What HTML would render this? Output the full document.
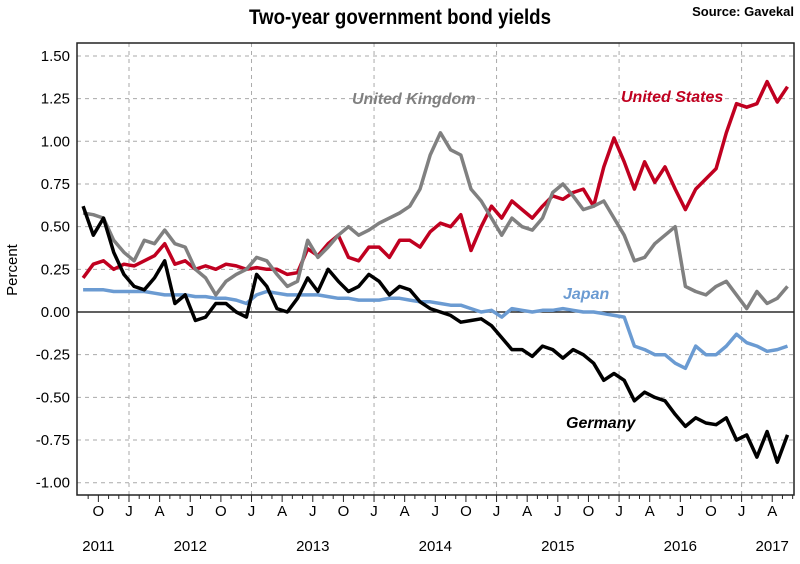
<!DOCTYPE html>
<html><head><meta charset="utf-8"><style>
body{margin:0;background:#fff;font-family:"Liberation Sans",sans-serif}
svg text{font-family:"Liberation Sans",sans-serif}
</style></head><body>
<svg id="chart" width="800" height="559" viewBox="0 0 800 559" xmlns="http://www.w3.org/2000/svg">
<text x="400" y="24" text-anchor="middle" font-size="21" font-weight="bold" textLength="302" lengthAdjust="spacingAndGlyphs" style="font-family:'Liberation Sans Narrow','Liberation Sans',sans-serif">Two-year government bond yields</text>
<text x="794" y="16" text-anchor="end" font-size="13" font-weight="bold">Source: Gavekal</text>
<text transform="translate(17,270) rotate(-90)" text-anchor="middle" font-size="15">Percent</text>
<g id="grid"></g><g id="axes"></g><g id="series"></g>
<rect x="77" y="43" width="717" height="452" fill="none" stroke="#222" stroke-width="1.5"/>
<text x="352" y="104" font-size="16" font-weight="bold" font-style="italic" fill="#808080">United Kingdom</text>
<text x="621" y="102" font-size="16" font-weight="bold" font-style="italic" fill="#c00020">United States</text>
<text x="563" y="299" font-size="16" font-weight="bold" font-style="italic" fill="#6b9bd2">Japan</text>
<text x="566" y="428" font-size="16" font-weight="bold" font-style="italic" fill="#000">Germany</text>
</svg>
<script>
const yTicks=[1.5,1.25,1.0,0.75,0.5,0.25,0,-0.25,-0.5,-0.75,-1.0];
const yTickLabels=["1.50","1.25","1.00","0.75","0.50","0.25","0.00","-0.25","-0.50","-0.75","-1.00"];
const quarterLabels=["O","J","A","J","O","J","A","J","O","J","A","J","O","J","A","J","O","J","A","J","O","J","A"];
const yearLabels=["2011","2012","2013","2014","2015","2016","2017"];
const startMonth=7.5; // months since Jan 2011
const usValues=[0.20,0.28,0.30,0.25,0.28,0.27,0.30,0.33,0.40,0.28,0.30,0.25,0.27,0.25,0.28,0.27,0.25,0.26,0.25,0.25,0.22,0.23,0.37,0.33,0.40,0.45,0.32,0.30,0.38,0.38,0.32,0.42,0.42,0.38,0.47,0.52,0.50,0.57,0.36,0.50,0.62,0.55,0.65,0.60,0.55,0.62,0.68,0.66,0.70,0.72,0.62,0.85,1.02,0.88,0.72,0.88,0.76,0.85,0.72,0.60,0.72,0.78,0.84,1.05,1.22,1.20,1.22,1.35,1.23,1.32];
const ukValues=[0.58,0.57,0.55,0.42,0.35,0.30,0.42,0.40,0.48,0.40,0.38,0.25,0.20,0.10,0.18,0.22,0.25,0.32,0.30,0.22,0.15,0.18,0.42,0.32,0.38,0.45,0.50,0.45,0.48,0.52,0.55,0.58,0.62,0.72,0.92,1.05,0.95,0.92,0.72,0.65,0.55,0.45,0.55,0.50,0.48,0.55,0.70,0.75,0.68,0.60,0.62,0.65,0.55,0.45,0.30,0.32,0.40,0.45,0.50,0.15,0.12,0.10,0.15,0.18,0.10,0.02,0.12,0.05,0.08,0.15];
const jpValues=[0.13,0.13,0.13,0.12,0.12,0.12,0.12,0.11,0.10,0.10,0.10,0.09,0.09,0.08,0.08,0.07,0.05,0.10,0.12,0.11,0.10,0.10,0.10,0.10,0.09,0.08,0.08,0.07,0.07,0.07,0.08,0.08,0.07,0.06,0.06,0.05,0.04,0.04,0.02,0.00,0.01,-0.03,0.02,0.01,0.00,0.01,0.01,0.02,0.01,0.00,0.00,-0.01,-0.02,-0.03,-0.20,-0.22,-0.25,-0.25,-0.30,-0.33,-0.20,-0.25,-0.25,-0.20,-0.13,-0.18,-0.20,-0.23,-0.22,-0.20];
const deValues=[0.62,0.45,0.55,0.35,0.22,0.15,0.13,0.20,0.30,0.05,0.10,-0.05,-0.03,0.05,0.05,0.00,-0.03,0.22,0.15,0.02,0.00,0.08,0.20,0.12,0.25,0.18,0.12,0.15,0.22,0.18,0.10,0.15,0.13,0.06,0.02,0.00,-0.02,-0.06,-0.05,-0.04,-0.08,-0.15,-0.22,-0.22,-0.26,-0.20,-0.22,-0.27,-0.22,-0.25,-0.30,-0.40,-0.36,-0.40,-0.52,-0.47,-0.50,-0.52,-0.60,-0.67,-0.62,-0.65,-0.66,-0.62,-0.75,-0.72,-0.85,-0.70,-0.88,-0.72];

const NS="http://www.w3.org/2000/svg";
const L=77,R=794,T=43,B=495;
function xScale(m){return 129+(m-12)*10.21;}
function yScale(v){return 312-v*170.7;}
function mk(tag,attrs,parent){const e=document.createElementNS(NS,tag);for(const k in attrs)e.setAttribute(k,attrs[k]);parent.appendChild(e);return e;}
const grid=document.getElementById('grid'),axes=document.getElementById('axes'),ser=document.getElementById('series');
yTicks.forEach((v,i)=>{
  const y=yScale(v);
  const g=mk('line',{x1:L,x2:R,y1:y,y2:y,stroke:'#aaa','stroke-width':1,'stroke-dasharray':'4,4'},grid);
  
  
  const t=mk('text',{x:L-7,y:y+5,'text-anchor':'end','font-size':15},axes);
  t.textContent=yTickLabels[i];
  
  
});
for(let yr=0;yr<7;yr++){
  const x=xScale(12*(yr+1));
  if(x<R){const g=mk('line',{x1:x,x2:x,y1:T,y2:B,stroke:'#aaa','stroke-width':1,'stroke-dasharray':'4,4'},grid);
  
  }
}
const zero=mk('line',{x1:L,x2:R,y1:yScale(0),y2:yScale(0),stroke:'#000','stroke-width':1.3},grid);


for(let m=8;m<=77;m++){
  const x=xScale(m);
  const len=(m%3===0)?7:4;
  const tk=mk('line',{x1:x,x2:x,y1:B,y2:B+len,stroke:'#222','stroke-width':1},axes);
  
  
}
quarterLabels.forEach((q,i)=>{
  const m=9+3*i;
  const t=mk('text',{x:xScale(m),y:516,'text-anchor':'middle','font-size':15},axes);
  t.textContent=q;
  
  
});
yearLabels.forEach((yl,i)=>{
  const m=i===0?9:(i===6?75:12*i+6);
  const t=mk('text',{x:xScale(m),y:551,'text-anchor':'middle','font-size':15},axes);
  t.textContent=yl;
  
  
});
function line(vals,color,name){
  const d=vals.map((v,i)=>(i?'L':'M')+xScale(startMonth+i).toFixed(1)+','+yScale(v).toFixed(1)).join('');
  const p=mk('path',{d:d,fill:'none',stroke:color,'stroke-width':3.5,'stroke-linejoin':'round'},ser);
  
  
}
line(jpValues,'#6b9bd2','japan-line');
line(usValues,'#c00020','united-states-line');
line(ukValues,'#808080','united-kingdom-line');
line(deValues,'#000','germany-line');
</script>
</body></html>
